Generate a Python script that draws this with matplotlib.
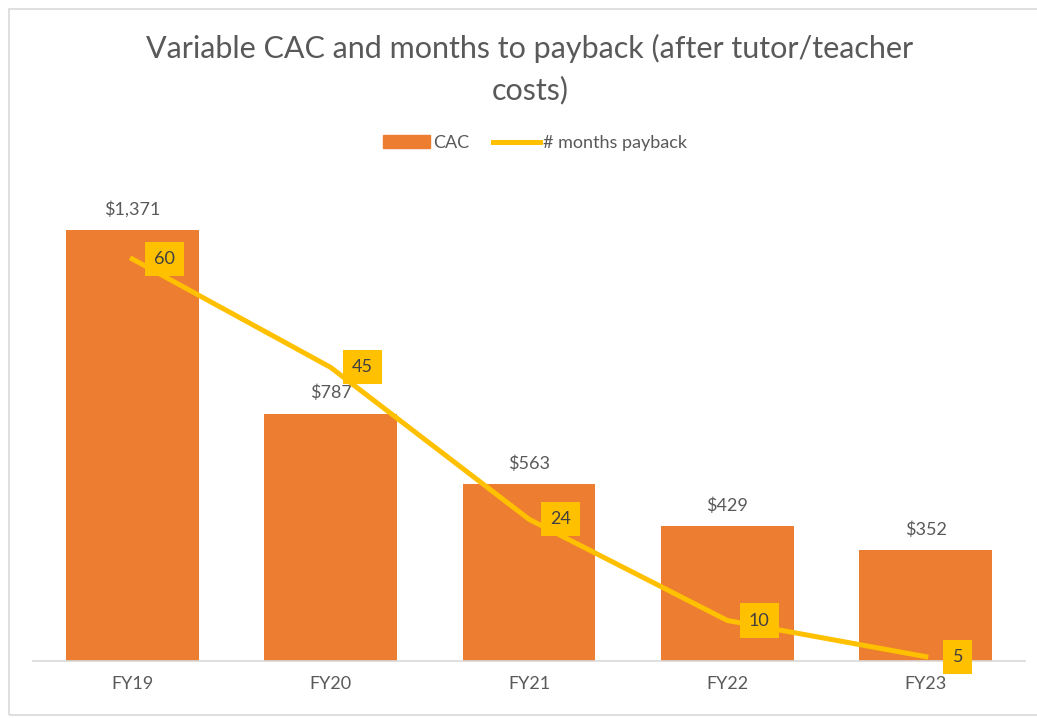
import matplotlib
matplotlib.use("Agg")
import matplotlib.pyplot as plt
from matplotlib.patches import Patch, Rectangle
from matplotlib.lines import Line2D

years = ["FY19", "FY20", "FY21", "FY22", "FY23"]
cac = [1371, 787, 563, 429, 352]
payback = [60, 45, 24, 10, 5]

ORANGE = "#ED7D31"
GOLD = "#FFC000"
TXT = "#595959"

plt.rcParams["font.family"] = ["Lato", "DejaVu Sans"]

fig = plt.figure(figsize=(10.37, 7.18), dpi=100)
fig.patches.append(Rectangle((9 / 1037, 3 / 718), 1.2, 706 / 718, transform=fig.transFigure,
                             fill=False, ec="#D9D9D9", lw=1.2))

ax = fig.add_axes([33 / 1037, 57 / 718, 992 / 1037, 486 / 718])
x = range(len(years))
ax.bar(x, cac, width=0.67, color=ORANGE, zorder=2)
for xi, v in zip(x, cac):
    ax.annotate(f"${v:,}", (xi, v), xytext=(0, 9), textcoords="offset points",
                ha="center", va="bottom", fontsize=13, color=TXT)
ax.set_xlim(-0.5, len(years) - 0.5)
ax.set_ylim(0, 1546)
ax.set_xticks(list(x))
ax.set_xticklabels(years, fontsize=13, color=TXT)
ax.tick_params(axis="x", length=0, pad=11)
ax.set_yticks([])
for s in ("top", "right", "left"):
    ax.spines[s].set_visible(False)
ax.spines["bottom"].set_color("#D9D9D9")
ax.spines["bottom"].set_linewidth(1.2)

ax2 = ax.twinx()
ax2.plot(x, payback, color=GOLD, lw=3.6, solid_joinstyle="round", zorder=3)
for xi, v in zip(x, payback):
    ax2.annotate(str(v), (xi, v), xytext=(23, 0), textcoords="offset points",
                 ha="center", va="center", fontsize=13, color="#404040",
                 bbox=dict(boxstyle="square,pad=0.5", fc=GOLD, ec="none"))
ax2.set_ylim(4.4, 71.6)
ax2.set_yticks([])
for s in ax2.spines.values():
    s.set_visible(False)

fig.text(530 / 1037, 1 - 48 / 718, "Variable CAC and months to payback (after tutor/teacher",
         ha="center", va="center", fontsize=22, color=TXT)
fig.text(530 / 1037, 1 - 90 / 718, "costs)", ha="center", va="center", fontsize=22, color=TXT)

handles = [Patch(color=ORANGE), Line2D([], [], color=GOLD, lw=3.6)]
fig.legend(handles, ["CAC", "# months payback"], loc="center", bbox_to_anchor=(535 / 1037, 1 - 143 / 718),
           ncol=2, frameon=False, fontsize=13, handlelength=2.6, handletextpad=0.2,
           columnspacing=1.3, labelcolor=TXT)

fig.savefig("out.png", dpi=100)
